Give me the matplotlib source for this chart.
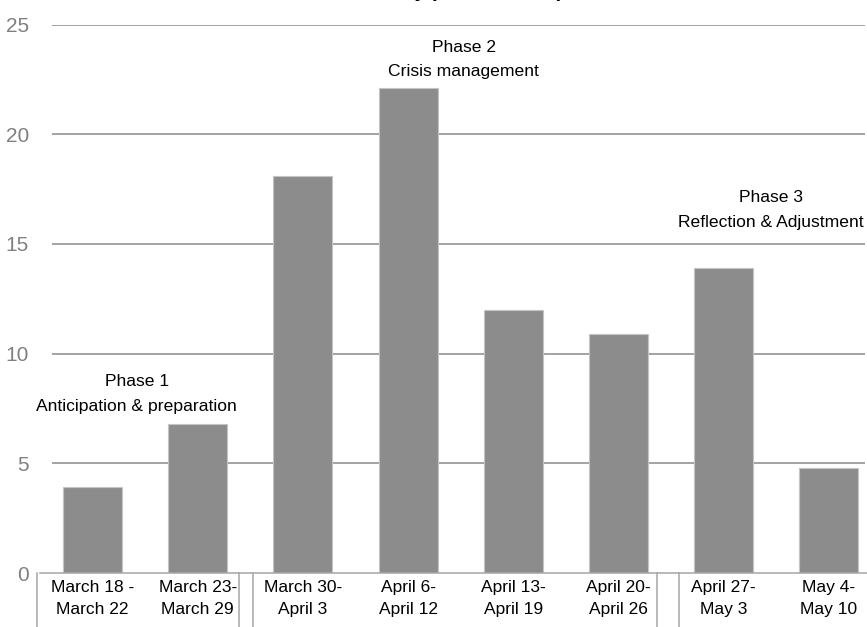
import matplotlib
matplotlib.use("Agg")
import matplotlib.pyplot as plt
from matplotlib import font_manager

names = {f.name for f in font_manager.fontManager.ttflist}
narrow = "Liberation Sans Narrow" if "Liberation Sans Narrow" in names else "Liberation Sans"
plt.rcParams['font.family'] = [narrow, 'DejaVu Sans']
small = narrow != "Liberation Sans Narrow"

# weekly counts
weeks = ["March 18 -\nMarch 22", "March 23-\nMarch 29", "March 30-\nApril 3",
         "April 6-\nApril 12", "April 13-\nApril 19", "April 20-\nApril 26",
         "April 27-\nMay 3", "May 4-\nMay 10"]
counts = [3.9, 6.8, 18.1, 22.1, 12.0, 10.9, 13.9, 4.8]
yticks = [0, 5, 10, 15, 20, 25]

phase_labels = ["Phase 1\nAnticipation & preparation",
                "Phase 2\nCrisis management",
                "Phase 3\nReflection & Adjustment"]
phase_x = [0.42, 3.53, 6.45]
phase_y = [8.15, 23.4, 16.55]

# group separators under the category axis
group_edges = [-0.53, 1.39, 1.53, 5.37, 5.58]

lab_fs = 12.5 if small else 14
note_fs = 12.6 if small else 14
num_fs = 15

fig = plt.figure(figsize=(8.67, 6.27), dpi=100)
ax = fig.add_axes([0.046, 0.0861, 0.9707, 0.8748])

x = range(len(weeks))
ax.bar(x, counts, width=0.56, color='#8c8c8c', edgecolor='#c4c4c4', linewidth=0.8, zorder=3)

ax.hlines(yticks[1:], -0.385, 7.34, color='#8a8a8a', linewidth=1.1, zorder=1)
ax.axhline(0, color='#a6a6a6', linewidth=1.1, zorder=4, clip_on=False)
for e in group_edges:
    ax.plot([e, e], [0, -3], color='#a6a6a6', linewidth=1.1, clip_on=False, zorder=4)

ax.set_xlim(-0.5, 7.5)
ax.set_ylim(0, 25)
ax.set_xticks(list(x))
ax.set_xticklabels(weeks, fontsize=lab_fs, linespacing=1.55)
ax.set_yticks(yticks)
ax.set_yticklabels([str(t) for t in yticks], fontsize=num_fs, color='#808080')
ax.tick_params(axis='x', length=0, pad=5)
ax.tick_params(axis='y', length=0, pad=8)
for s in ax.spines.values():
    s.set_visible(False)

for lab, px, py in zip(phase_labels, phase_x, phase_y):
    ax.text(px, py, lab, ha='center', va='center', fontsize=note_fs, linespacing=1.8)

# chart title, sitting mostly above the top edge
fig.text(0.245, 1.0 + 3 / 627, "Number of articles by phase of response",
         ha='left', va='baseline', fontsize=15, fontweight='bold', family='Liberation Sans')

fig.savefig("out.png", dpi=100)
